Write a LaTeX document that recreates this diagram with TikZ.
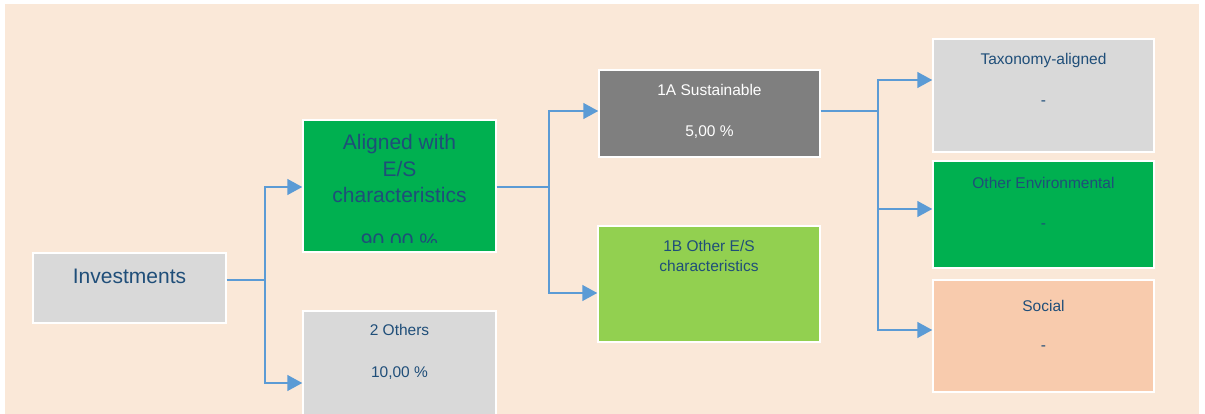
\documentclass[tikz,border=0pt]{standalone}
\usepackage{fontspec}
\setmainfont{Liberation Sans}
\usetikzlibrary{arrows.meta,positioning,calc}

\definecolor{bgbeige}{HTML}{FAE8D8}
\definecolor{boxgrey}{HTML}{D9D9D9}
\definecolor{darkgrey}{HTML}{7F7F7F}
\definecolor{esgreen}{HTML}{00B050}
\definecolor{lightgreen}{HTML}{92D050}
\definecolor{peach}{HTML}{F8CBAD}
\definecolor{linkblue}{HTML}{5B9BD5}
\definecolor{textblue}{HTML}{1F4E79}

\begin{document}
\begin{tikzpicture}[
    x=1pt, y=-1pt,
    box/.style={draw=white, line width=1.5pt, inner sep=0pt},
    txt/.style={anchor=base, align=center, text=textblue, inner sep=0pt, font=\fontsize{15.5}{19.5}\selectfont},
    bigtxt/.style={txt, font=\fontsize{21}{26.5}\selectfont},
    conn/.style={draw=linkblue, line width=1.5pt},
    arr/.style={conn, -{Triangle[length=15pt, width=16pt]}}
]
% page and beige panel
\fill[white] (0,0) rectangle (1205,414);
\useasboundingbox (0,0) rectangle (1205,414);
\fill[bgbeige] (5,4) rectangle (1199,414);

% boxes
\node[box, fill=boxgrey, minimum width=193pt, minimum height=70pt] (inv) at (129.5,288) {};
\node[box, fill=esgreen, minimum width=193pt, minimum height=132pt] (al) at (399.5,186) {};
\node[box, fill=boxgrey, minimum width=193pt, minimum height=109pt] (oth) at (399.5,365.5) {};
\node[box, fill=darkgrey, minimum width=221pt, minimum height=87pt] (sus) at (709.5,113.5) {};
\node[box, fill=lightgreen, minimum width=222pt, minimum height=116pt] (ores) at (709,284) {};
\node[box, fill=boxgrey, minimum width=221pt, minimum height=113pt] (taxo) at (1043.5,95.5) {};
\node[box, fill=esgreen, minimum width=221pt, minimum height=107pt] (env) at (1043.5,214.5) {};
\node[box, fill=peach, minimum width=221pt, minimum height=112pt] (soc) at (1043.5,336) {};

% texts (base of a multi-line node is its last line)
\node[bigtxt] (invt) at ([yshift=-31pt]inv.north) {Investments};
\node[bigtxt] (alt) at ([yshift=-83.5pt]al.north) {Aligned with\\E/S\\characteristics};
\begin{scope}
  \clip (al.north west) rectangle ([yshift=10pt]al.south east);
  \node[bigtxt] (alp) at ([yshift=-129pt]al.north) {90,00 \%};
\end{scope}
\node[txt] (otht) at ([yshift=-25pt]oth.north) {2 Others};
\node[txt] (othp) at ([yshift=-67pt]oth.north) {10,00 \%};
\node[txt, text=white] (sust) at ([yshift=-26pt]sus.north) {1A Sustainable};
\node[txt, text=white] (susp) at ([yshift=-67pt]sus.north) {5,00 \%};
\node[txt] (orest) at ([yshift=-46pt]ores.north) {1B Other E/S\\characteristics};
\node[txt] (taxot) at ([yshift=-26pt]taxo.north) {Taxonomy-aligned};
\node[txt] (taxop) at ([yshift=-67pt]taxo.north) {-};
\node[txt] (envt) at ([yshift=-28pt]env.north) {Other Environmental};
\node[txt] (envp) at ([yshift=-68pt]env.north) {-};
\node[txt] (soct) at ([yshift=-32pt]soc.north) {Social};
\node[txt] (socp) at ([yshift=-71pt]soc.north) {-};

% connectors
\draw[arr] ([yshift=8pt]inv.east) -- ++(38,0) |- ([yshift=-1pt]al.west);
\draw[arr] ([yshift=8pt]inv.east) -- ++(38,0) |- ([yshift=-17.5pt]oth.west);
\draw[arr] ([yshift=-1pt]al.east) -- ++(52,0) |- ([yshift=2.5pt]sus.west);
\draw[arr] ([yshift=-1pt]al.east) -- ++(52,0) |- ([yshift=-9pt]ores.west);
\draw[arr] ([yshift=2.5pt]sus.east) -- ++(57,0) |- ([yshift=15.5pt]taxo.west);
\draw[arr] ([yshift=2.5pt]sus.east) -- ++(57,0) |- ([yshift=5.5pt]env.west);
\draw[arr] ([yshift=2.5pt]sus.east) -- ++(57,0) |- ([yshift=6pt]soc.west);
\end{tikzpicture}
\end{document}
